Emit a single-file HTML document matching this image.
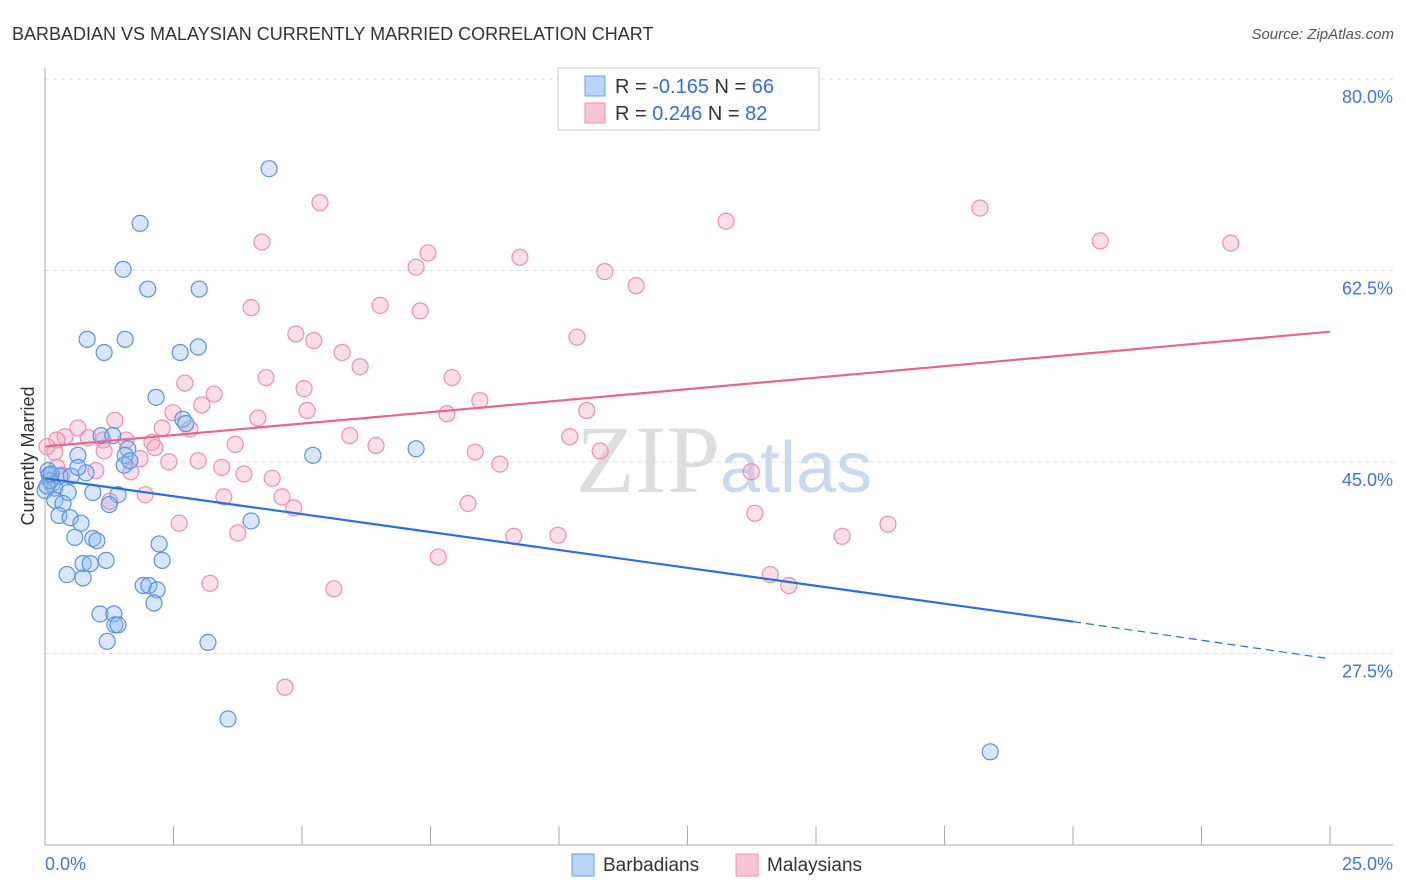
<!DOCTYPE html>
<html><head><meta charset="utf-8"><style>
body{margin:0;background:#fff;font-family:"Liberation Sans",sans-serif;}
svg{display:block}
</style></head><body>
<svg id="chart" width="1406" height="892">
<text x="12" y="40" font-size="18" fill="#333">BARBADIAN VS MALAYSIAN CURRENTLY MARRIED CORRELATION CHART</text>
<text x="1394" y="39" font-size="15" fill="#555" font-style="italic" text-anchor="end">Source: ZipAtlas.com</text>
<text x="720" y="492" font-size="96" fill="#ddd" text-anchor="end" font-family="Liberation Serif">ZIP</text>
<text x="720" y="492" font-size="72" fill="#c9daf0">atlas</text>
<g id="grid"></g>
<g id="axes"></g>
<g id="pts"></g>
<g id="lines"></g>
<text transform="translate(34,456) rotate(-90)" font-size="18" fill="#333" text-anchor="middle">Currently Married</text>
<g>
<rect x="558" y="68" width="261" height="62" fill="#fff" stroke="#ccc"/>
<rect x="585" y="76" width="20" height="20" fill="#bad4f5" stroke="#6fa0e0"/>
<rect x="585" y="103" width="20" height="20" fill="#f9c6d6" stroke="#ec93b0"/>
<text x="615" y="93" font-size="20" fill="#333">R = <tspan fill="#2f6fd6">-0.165</tspan>   N = <tspan fill="#2f6fd6">66</tspan></text>
<text x="615" y="120" font-size="20" fill="#333">R =  <tspan fill="#2f6fd6">0.246</tspan>   N = <tspan fill="#2f6fd6">82</tspan></text>
</g>
<g>
<rect x="572" y="854" width="22" height="22" fill="#bad4f5" stroke="#6fa0e0"/>
<text x="603" y="871" font-size="19" fill="#333">Barbadians</text>
<rect x="736" y="854" width="22" height="22" fill="#f9c6d6" stroke="#ec93b0"/>
<text x="767" y="871" font-size="19" fill="#333">Malaysians</text>
</g>
</svg>
<script>
const yTicks=[80,62.5,45,27.5];
const yTickLabels=["80.0%","62.5%","45.0%","27.5%"];
const xTickLabels=["0.0%","25.0%"];
const blueX=[4.36,1.85,1.52,2.00,3.00,0.82,1.56,1.15,2.63,2.98,2.16,2.68,2.74,1.09,1.32,1.61,1.56,5.21,7.22,0.64,0.08,0.29,0.51,0.80,0.64,0.14,0.19,0.00,0.45,0.93,1.42,0.19,0.35,1.25,0.27,0.49,0.70,4.01,0.58,0.93,1.01,2.22,1.19,2.28,0.74,0.88,0.43,0.74,1.91,2.02,2.18,2.12,1.07,1.34,1.36,1.42,1.21,3.17,3.56,18.39,1.54,1.65,0.10,0.04,0.06,0.12];
const blueY=[71.8,66.8,62.6,60.8,60.8,56.2,56.2,55.0,55.0,55.5,50.9,48.9,48.5,47.4,47.4,46.2,45.6,45.6,46.2,45.6,43.8,43.7,43.7,44.0,44.5,43.0,42.6,42.4,42.2,42.2,42.0,41.5,41.2,41.1,40.1,39.9,39.4,39.6,38.1,38.0,37.8,37.5,36.0,36.0,35.7,35.7,34.7,34.4,33.7,33.7,33.3,32.1,31.1,31.1,30.1,30.1,28.6,28.5,21.5,18.5,44.7,45.1,43.3,42.8,44.2,43.9];
const pinkX=[5.35,13.25,18.19,20.53,23.07,4.22,7.45,7.22,9.24,10.89,11.50,4.01,6.52,7.30,4.88,5.23,10.35,5.78,6.13,2.72,4.30,5.04,3.29,7.92,8.46,3.05,2.49,7.82,5.10,10.54,4.14,2.82,2.28,0.64,1.36,0.39,0.84,1.13,1.58,2.08,0.23,5.93,3.70,10.21,6.44,8.37,10.80,1.15,2.14,0.19,1.85,2.41,2.98,3.44,0.99,1.67,3.87,4.42,8.85,13.74,0.23,0.33,1.95,3.48,1.26,4.61,4.84,8.23,13.81,2.61,16.40,3.75,9.12,9.98,15.51,7.65,3.21,5.62,14.11,14.47,4.67,0.04];
const pinkY=[68.7,67.0,68.2,65.2,65.0,65.1,64.1,62.8,63.7,62.4,61.1,59.1,59.3,58.8,56.7,56.1,56.4,55.0,53.7,52.2,52.7,51.7,51.2,52.7,50.6,50.2,49.5,49.4,49.7,49.7,49.0,48.0,48.1,48.1,48.8,47.3,47.2,47.0,47.0,46.8,47.0,47.4,46.6,47.3,46.5,45.9,46.0,46.0,46.3,45.9,45.3,45.0,45.1,44.5,44.2,44.1,43.9,43.5,44.8,44.1,44.5,43.8,42.0,41.8,41.4,41.8,40.8,41.2,40.3,39.4,39.3,38.5,38.2,38.3,38.2,36.3,33.9,33.4,34.7,33.7,24.4,46.4];
const blueTrend=[[0,43.5],[20,30.4],[25,27.0]];
const pinkTrend=[[0,46.4],[25,56.9]];
const X=v=>45+v*51.4, Y=v=>79+(80-v)*10.94;
const NS="http://www.w3.org/2000/svg";
function mk(t,a,p){const e=document.createElementNS(NS,t);for(const k in a)e.setAttribute(k,a[k]);p.appendChild(e);return e;}
const grid=document.getElementById('grid'),axes=document.getElementById('axes');
yTicks.forEach((t,i)=>{
 const l=mk('line',{x1:45,x2:1393,y1:Y(t),y2:Y(t),stroke:'#ddd','stroke-dasharray':'4,4'},grid);
 
 
 const tx=mk('text',{x:1393,y:Y(t)+24,'font-size':18,fill:'#3b78d8','text-anchor':'end'},axes);
 tx.textContent=yTickLabels[i];
 
 
});
const ya=mk('line',{x1:45,x2:45,y1:68,y2:845,stroke:'#aaa'},axes);


const xa=mk('line',{x1:45,x2:1393,y1:845,y2:845,stroke:'#aaa'},axes);


for(let i=0;i<=10;i++){
 const t=mk('line',{x1:X(i*2.5),x2:X(i*2.5),y1:826,y2:845,stroke:'#aaa'},axes);
 
 
}
const xl0=mk('text',{x:45,y:870,'font-size':18,fill:'#3b78d8'},axes);xl0.textContent=xTickLabels[0];


const xl1=mk('text',{x:1393,y:870,'font-size':18,fill:'#3b78d8','text-anchor':'end'},axes);xl1.textContent=xTickLabels[1];


const pts=document.getElementById('pts');
pinkX.forEach((x,i)=>{const c=mk('circle',{cx:X(x),cy:Y(pinkY[i]),r:8,fill:'rgba(244,160,188,0.35)',stroke:'#ec8fb0','stroke-width':1.2},pts);
 
 });
blueX.forEach((x,i)=>{const c=mk('circle',{cx:X(x),cy:Y(blueY[i]),r:8,fill:'rgba(140,182,236,0.35)',stroke:'#5b93de','stroke-width':1.2},pts);
 
 });
const lines=document.getElementById('lines');
const bl=mk('line',{x1:X(blueTrend[0][0]),y1:Y(blueTrend[0][1]),x2:X(blueTrend[1][0]),y2:Y(blueTrend[1][1]),stroke:'#2a70d8','stroke-width':2.2},lines);


const bd=mk('line',{x1:X(blueTrend[1][0]),y1:Y(blueTrend[1][1]),x2:X(blueTrend[2][0]),y2:Y(blueTrend[2][1]),stroke:'#2a70d8','stroke-width':1.2,'stroke-dasharray':'8,5'},lines);


const pl=mk('line',{x1:X(pinkTrend[0][0]),y1:Y(pinkTrend[0][1]),x2:X(pinkTrend[1][0]),y2:Y(pinkTrend[1][1]),stroke:'#e8658f','stroke-width':2.2},lines);


</script>
</body></html>
